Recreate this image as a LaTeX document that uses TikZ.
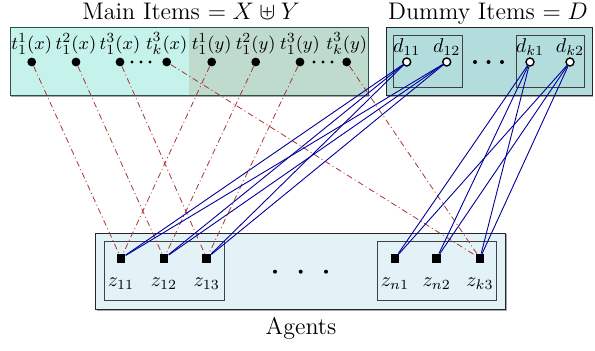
\documentclass[tikz,border=0pt]{standalone}
\usepackage{amssymb}
\begin{document}
\begin{tikzpicture}[x=0.5pt,y=-0.5pt,
  itemdot/.style={circle,fill=black,inner sep=0pt,minimum size=4.4pt},
  dummydot/.style={circle,draw=black,fill=white,line width=0.7pt,inner sep=0pt,minimum size=4pt},
  agentsq/.style={rectangle,fill=black,inner sep=0pt,minimum size=4.3pt},
  tlbl/.style={inner sep=0pt,label distance=1.2pt,font=\fontsize{9.4}{10}\selectfont},
  dlbl/.style={inner sep=0pt,label distance=0.6pt},
  zlbl/.style={inner sep=0pt,label distance=7pt},
  smalldot/.style={circle,fill=black,inner sep=0pt,minimum size=1.7pt},
  middot/.style={circle,fill=black,inner sep=0pt,minimum size=2pt},
  title/.style={font=\large,inner sep=0pt,anchor=base},
  redline/.style={draw=red!60!black!80,line width=0.4pt,dash pattern=on 3pt off 1.5pt on 0.5pt off 1.5pt},
  blueline/.style={draw=blue!60!black,line width=0.45pt},
  outerbox/.style={line width=0.5pt},
  innerbox/.style={draw=black!75,line width=0.5pt},
  shadowbox/.style={fill=black!35}
]
\definecolor{mainL}{RGB}{198,242,236}
\definecolor{mainR}{RGB}{191,219,206}
\definecolor{dummyc}{RGB}{179,221,221}
\definecolor{agentsc}{RGB}{227,242,247}
\definecolor{mainborder}{RGB}{45,80,72}
\useasboundingbox (0,0) rectangle (595,351);

% boxes
\fill[shadowbox] (11,29) rectangle (369,97);
\fill[mainL] (10,28) rectangle (189,96);
\fill[mainR] (189,28) rectangle (368,96);
\draw[outerbox,draw=mainborder] (10,28) rectangle (368,96);

\fill[shadowbox] (387,29) rectangle (593,97);
\fill[dummyc] (386,28) rectangle (592,96);
\draw[outerbox,draw=black!85] (386,28) rectangle (592,96);
\draw[innerbox] (393,36) rectangle (462,88);
\draw[innerbox] (516,36) rectangle (584,88);

\fill[shadowbox] (96.7,234.3) rectangle (506.7,311);
\fill[agentsc] (95.7,233.3) rectangle (505.7,310);
\draw[outerbox,draw=black!85] (95.7,233.3) rectangle (505.7,310);
\draw[innerbox] (104,241.7) rectangle (224,301);
\draw[innerbox] (377.3,241.7) rectangle (496.7,301);

% titles
\node[title] (tmain) at (191,20) {Main Items $=X\uplus Y$};
\node[title] (tdummy) at (488,20) {Dummy Items $=D$};
\node[title] (tagents) at (301,335) {Agents};

% item nodes
\node[itemdot,label={[tlbl]above:$t_1^1(x)$}] (x1) at (31.7,62) {};
\node[itemdot,label={[tlbl]above:$t_1^2(x)$}] (x2) at (76,62) {};
\node[itemdot,label={[tlbl]above:$t_1^3(x)$}] (x3) at (120,62) {};
\node[itemdot,label={[tlbl]above:$t_k^3(x)$}] (xk) at (166.7,62) {};
\node[itemdot,label={[tlbl]above:$t_1^1(y)$}] (y1) at (211.7,62) {};
\node[itemdot,label={[tlbl]above:$t_1^2(y)$}] (y2) at (255.7,62) {};
\node[itemdot,label={[tlbl]above:$t_1^3(y)$}] (y3) at (300,62) {};
\node[itemdot,label={[tlbl]above:$t_k^3(y)$}] (yk) at (346.7,62) {};
\node[smalldot] (sx1) at (132,62) {};
\node[smalldot] (sx2) at (141,62) {};
\node[smalldot] (sx3) at (150,62) {};
\node[smalldot] (sy1) at (314,62) {};
\node[smalldot] (sy2) at (323,62) {};
\node[smalldot] (sy3) at (332,62) {};

% dummy nodes
\node[dummydot,label={[dlbl]above:$d_{11}$}] (d11) at (406.7,62) {};
\node[dummydot,label={[dlbl]above:$d_{12}$}] (d12) at (446.7,62) {};
\node[dummydot,label={[dlbl]above:$d_{k1}$}] (dk1) at (530,62) {};
\node[dummydot,label={[dlbl]above:$d_{k2}$}] (dk2) at (570,62) {};
\node[middot] (dm1) at (475,62) {};
\node[middot] (dm2) at (488.5,62) {};
\node[middot] (dm3) at (502,62) {};

% agent nodes
\node[agentsq,label={[zlbl]below:$z_{11}$}] (z11) at (121,258.3) {};
\node[agentsq,label={[zlbl]below:$z_{12}$}] (z12) at (164,258.3) {};
\node[agentsq,label={[zlbl]below:$z_{13}$}] (z13) at (206.7,258.3) {};
\node[agentsq,label={[zlbl]below:$z_{n1}$}] (zn1) at (395,258.3) {};
\node[agentsq,label={[zlbl]below:$z_{n2}$}] (zn2) at (436.7,258.3) {};
\node[agentsq,label={[zlbl]below:$z_{k3}$}] (zk3) at (480,258.3) {};
\node[middot] (am1) at (275,271.7) {};
\node[middot] (am2) at (300.7,271.7) {};
\node[middot] (am3) at (326,271.7) {};

% red connectors
\draw[redline] (x1) -- (z11);
\draw[redline] (y1) -- (z11);
\draw[redline] (x2) -- (z12);
\draw[redline] (y2) -- (z12);
\draw[redline] (x3) -- (z13);
\draw[redline] (y3) -- (z13);
\draw[redline] (xk) -- (zk3);
\draw[redline] (yk) -- (zk3);

% blue connectors
\foreach \d in {d11,d12}{
  \foreach \z in {z11,z12,z13}{
    \draw[blueline] (\d) -- (\z);
  }
}
\foreach \d in {dk1,dk2}{
  \foreach \z in {zn1,zn2,zk3}{
    \draw[blueline] (\d) -- (\z);
  }
}
\end{tikzpicture}
\end{document}
